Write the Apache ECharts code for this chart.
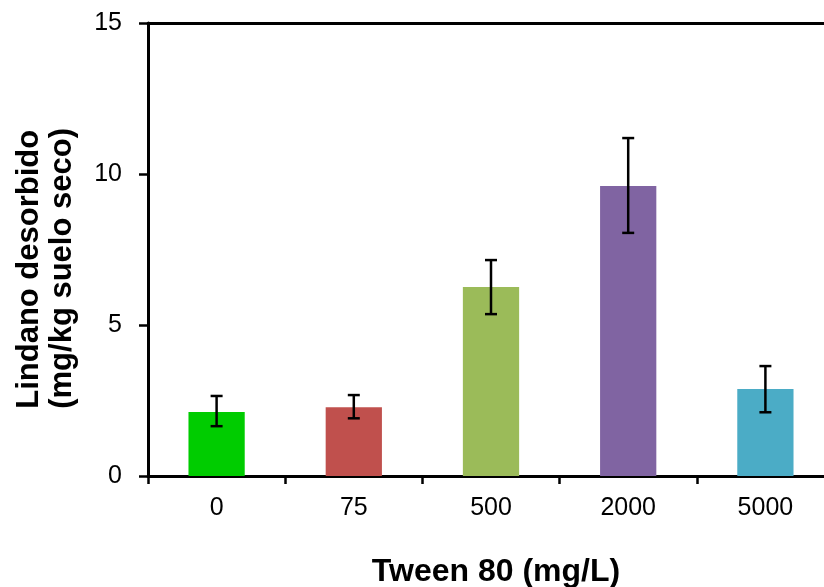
<!DOCTYPE html>
<html>
<head>
<meta charset="utf-8">
<title>Lindano desorbido</title>
<script src="https://cdn.jsdelivr.net/npm/echarts@6/dist/echarts.min.js"></script>
<style>
  html, body { margin: 0; padding: 0; background: #fff; }
  #chart { width: 824px; height: 587px; }
</style>
</head>
<body>
<div id="chart"></div>
<script>
const categories = ['0', '75', '500', '2000', '5000']
const values = [2.12, 2.28, 6.26, 9.6, 2.88]
const errLow = [1.65, 1.91, 5.36, 8.05, 2.11]
const errHigh = [2.65, 2.68, 7.15, 11.19, 3.64]
const barColors = ['#00cc00', '#c0504d', '#9bbb59', '#8064a2', '#4bacc6']

const font = 'Arial, "Liberation Sans", sans-serif'
const axisLineStyle = { color: '#000', width: 3 }

const chart = echarts.init(document.getElementById('chart'))

// error bars: vertical line plus two caps, in data coordinates
const errorItem = (params, api) => {
  const x = api.value(0)
  const low = api.coord([x, api.value(1)])
  const high = api.coord([x, api.value(2)])
  const half = 6
  const style = { stroke: '#000', lineWidth: 2.5 }
  return {
    type: 'group',
    children: [
      { type: 'line', shape: { x1: low[0], y1: low[1], x2: high[0], y2: high[1] }, style },
      { type: 'line', shape: { x1: low[0] - half, y1: low[1], x2: low[0] + half, y2: low[1] }, style },
      { type: 'line', shape: { x1: high[0] - half, y1: high[1], x2: high[0] + half, y2: high[1] }, style }
    ]
  }
}

const option = {
  animation: false,
  backgroundColor: '#fff',
  grid: { left: 148, top: 23, width: 686, height: 453, outerBoundsMode: 'none' },
  xAxis: [
    {
      type: 'category',
      data: categories,
      axisLine: { lineStyle: axisLineStyle },
      axisTick: { show: true, inside: false, length: 8, lineStyle: { color: '#000', width: 2.5 } },
      axisLabel: { color: '#000', fontSize: 25, fontFamily: font, margin: 20 },
      name: 'Tween 80 (mg/L)',
      nameLocation: 'middle',
      nameGap: 80,
      nameTextStyle: { color: '#000', fontSize: 32, fontWeight: 'bold', fontFamily: font, padding: [0, 0, 0, 10] }
    },
    {
      type: 'category',
      position: 'top',
      data: categories,
      axisLine: { lineStyle: axisLineStyle },
      axisTick: { show: false },
      axisLabel: { show: false }
    }
  ],
  yAxis: {
    type: 'value',
    min: 0,
    max: 15,
    interval: 5,
    axisLine: { show: true, lineStyle: axisLineStyle },
    axisTick: { show: true, length: 9, lineStyle: { color: '#000', width: 2.5 } },
    axisLabel: { color: '#000', fontSize: 25, fontFamily: font, margin: 26 },
    splitLine: { show: false }
  },
  graphic: [
    {
      type: 'text',
      left: 13,
      top: 128,
      rotation: Math.PI / 2,
      style: {
        text: 'Lindano desorbido\n(mg/kg suelo seco)',
        font: 'bold 31px ' + font,
        fill: '#000',
        align: 'center',
        lineHeight: 33
      }
    }
  ],
  series: [
    {
      type: 'bar',
      xAxisIndex: 0,
      barWidth: '41%',
      data: values.map((v, i) => ({ value: v, itemStyle: { color: barColors[i] } }))
    },
    {
      type: 'custom',
      xAxisIndex: 0,
      renderItem: errorItem,
      data: categories.map((c, i) => [i, errLow[i], errHigh[i]]),
      z: 10
    }
  ]
}

chart.setOption(option)
</script>
</body>
</html>
